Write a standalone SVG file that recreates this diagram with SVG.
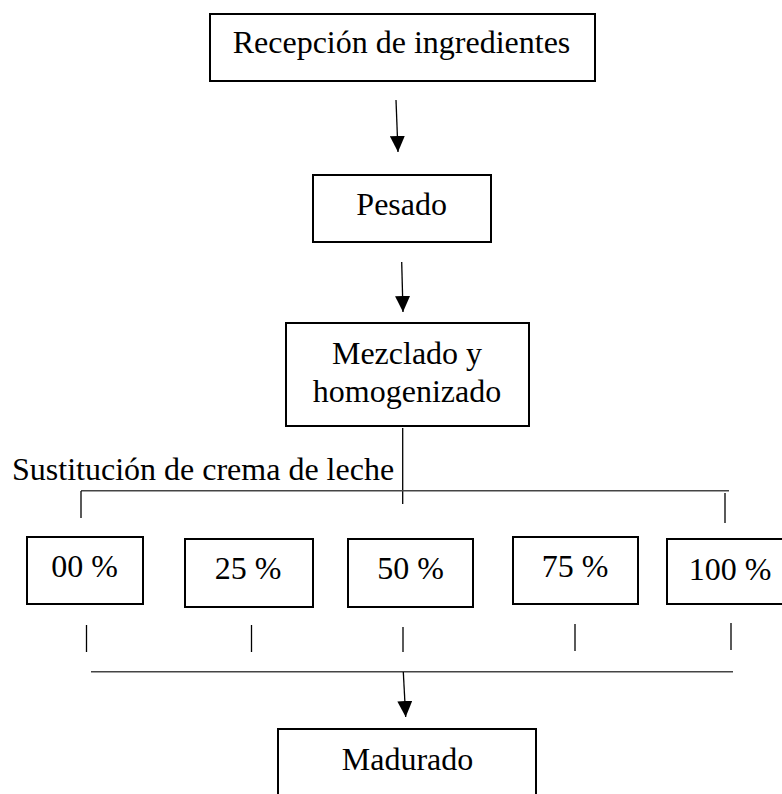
<svg xmlns="http://www.w3.org/2000/svg" width="782" height="794" viewBox="0 0 782 794">
<style>
.box{fill:#fff;stroke:#000;stroke-width:2}
.t{font-family:"Liberation Serif","Times New Roman",serif;font-size:32px;fill:#000;text-anchor:middle}
.ln{stroke:#000;stroke-width:1.3;fill:none}
.hl{stroke:#444;stroke-width:1.5;fill:none}
</style>
<defs>
<marker id="ah" markerUnits="userSpaceOnUse" viewBox="0 0 16 15" refX="16" refY="7.5" markerWidth="16" markerHeight="15" orient="auto">
<path d="M0,0 L16,7.5 L0,15 z" fill="#000"/>
</marker>
</defs>
<rect width="782" height="794" fill="#fff"/>
<g id="connectors">
<line class="ln" x1="396" y1="100" x2="398" y2="152" marker-end="url(#ah)"/>
<line class="ln" x1="401.7" y1="262" x2="403" y2="312" marker-end="url(#ah)"/>
<line class="ln" x1="402.7" y1="428" x2="402.7" y2="504"/>
<line class="hl" x1="81" y1="490.7" x2="729" y2="490.7"/>
<line class="ln" x1="81" y1="491" x2="81" y2="518"/>
<line class="ln" x1="725" y1="493" x2="725" y2="523"/>
<line class="ln" x1="86.5" y1="625" x2="86.5" y2="652"/>
<line class="ln" x1="251.5" y1="625" x2="251.5" y2="652"/>
<line class="ln" x1="403" y1="627" x2="403" y2="652"/>
<line class="ln" x1="575" y1="624" x2="575" y2="651"/>
<line class="ln" x1="731" y1="623" x2="731" y2="650"/>
<line class="hl" x1="91" y1="671.7" x2="733" y2="671.7"/>
<line class="ln" x1="403.3" y1="672" x2="405.7" y2="717" marker-end="url(#ah)"/>
</g>
<g id="recepcion">
<rect class="box" x="210" y="14" width="385" height="67"/>
<text class="t" x="401.5" y="53">Recepción de ingredientes</text>
</g>
<g id="pesado">
<rect class="box" x="313" y="175" width="178" height="67"/>
<text class="t" x="401.7" y="215">Pesado</text>
</g>
<g id="mezclado">
<rect class="box" x="286" y="323" width="243" height="103"/>
<text class="t" x="407" y="364">Mezclado y</text>
<text class="t" x="407" y="402">homogenizado</text>
</g>
<g id="sustitucion-label">
<text class="t" x="12" y="480" style="text-anchor:start">Sustitución de crema de leche</text>
</g>
<g id="p00">
<rect class="box" x="27" y="537" width="116" height="67"/>
<text class="t" x="84.5" y="577">00 %</text>
</g>
<g id="p25">
<rect class="box" x="185" y="539" width="128" height="68"/>
<text class="t" x="248" y="579">25 %</text>
</g>
<g id="p50">
<rect class="box" x="348" y="539" width="125" height="68"/>
<text class="t" x="410.5" y="579">50 %</text>
</g>
<g id="p75">
<rect class="box" x="513" y="537" width="125" height="67"/>
<text class="t" x="575" y="577">75 %</text>
</g>
<g id="p100">
<rect class="box" x="667" y="539" width="125" height="65"/>
<text class="t" x="730" y="580">100 %</text>
</g>
<g id="madurado">
<rect class="box" x="278" y="729" width="258" height="100"/>
<text class="t" x="407.5" y="770">Madurado</text>
</g>
</svg>
